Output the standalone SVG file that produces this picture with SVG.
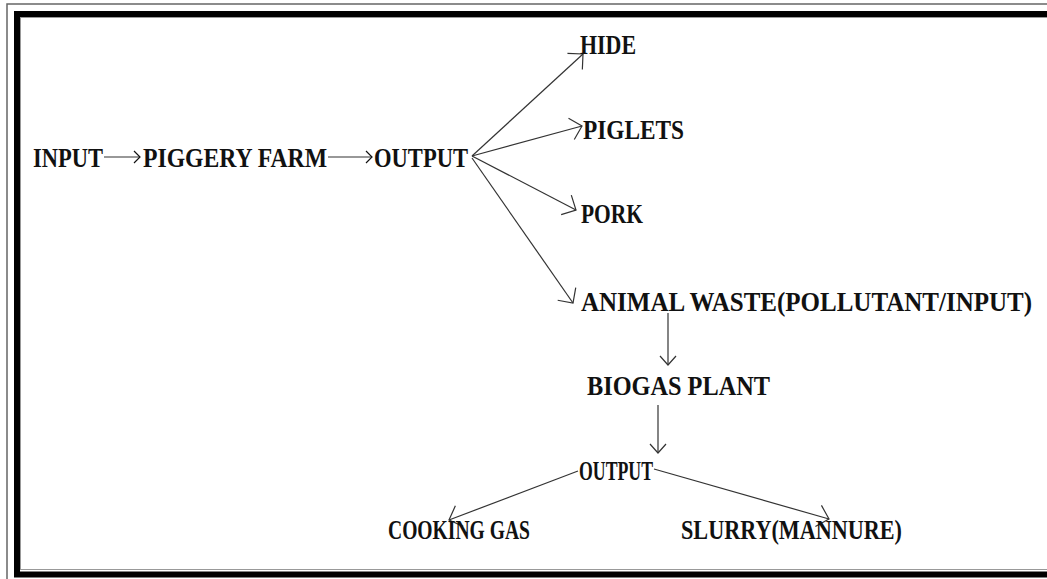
<svg xmlns="http://www.w3.org/2000/svg" width="1047" height="579" viewBox="0 0 1047 579">
<defs>
<style>
.t{font-family:"Liberation Serif","DejaVu Serif",serif;font-weight:bold;font-size:27px;fill:#111}
.c{stroke:#333;stroke-width:1.2;fill:none}
</style>
<marker id="big" markerUnits="userSpaceOnUse" viewBox="-13 -13 15 26" refX="0" refY="0" markerWidth="15" markerHeight="26" orient="auto">
<path d="M-11,-11 L0,0 L-11,11" fill="none" stroke="#333" stroke-width="1.2"/>
</marker>
<marker id="mid" markerUnits="userSpaceOnUse" viewBox="-10 -10 12 20" refX="0" refY="0" markerWidth="12" markerHeight="20" orient="auto">
<path d="M-9,-8 L0,0 L-9,8" fill="none" stroke="#333" stroke-width="1.2"/>
</marker>
<marker id="small" markerUnits="userSpaceOnUse" viewBox="-8 -8 10 16" refX="0" refY="0" markerWidth="10" markerHeight="16" orient="auto">
<path d="M-6,-6 L0,0 L-6,6" fill="none" stroke="#111" stroke-width="1.2"/>
</marker>
</defs>
<rect width="1047" height="579" fill="#fff"/>
<g id="frame">
<rect x="7" y="4" width="1060" height="600" fill="none" stroke="#666" stroke-width="1.5"/>
<rect x="17" y="14" width="1050" height="560.5" fill="none" stroke="#000" stroke-width="6"/>
<rect x="20.5" y="17.5" width="1040" height="552" fill="none" stroke="#999" stroke-width="1"/>
</g>
<g id="connectors">
<line class="c" x1="104" y1="157" x2="140" y2="157" marker-end="url(#small)"/>
<line class="c" x1="328" y1="157" x2="372" y2="157" marker-end="url(#small)"/>
<line class="c" x1="472" y1="156" x2="583" y2="54" marker-end="url(#big)"/>
<line class="c" x1="472" y1="156" x2="582" y2="126" marker-end="url(#big)"/>
<line class="c" x1="472" y1="156" x2="576" y2="210" marker-end="url(#big)"/>
<line class="c" x1="472" y1="158" x2="573" y2="303" marker-end="url(#big)"/>
<line class="c" x1="668" y1="313" x2="668" y2="365" marker-end="url(#mid)"/>
<line class="c" x1="658" y1="405" x2="658" y2="453" marker-end="url(#mid)"/>
<line class="c" x1="578" y1="471" x2="449" y2="520" marker-end="url(#big)"/>
<line class="c" x1="654" y1="469" x2="829" y2="519" marker-end="url(#big)"/>
</g>
<g id="n-input"><text class="t" x="33" y="167" textLength="70" lengthAdjust="spacingAndGlyphs">INPUT</text></g>
<g id="n-piggery"><text class="t" x="143" y="167" textLength="184" lengthAdjust="spacingAndGlyphs">PIGGERY FARM</text></g>
<g id="n-output1"><text class="t" x="374" y="167" textLength="94" lengthAdjust="spacingAndGlyphs">OUTPUT</text></g>
<g id="n-hide"><text class="t" x="580" y="54" textLength="56" lengthAdjust="spacingAndGlyphs">HIDE</text></g>
<g id="n-piglets"><text class="t" x="583" y="139" textLength="101" lengthAdjust="spacingAndGlyphs">PIGLETS</text></g>
<g id="n-pork"><text class="t" x="581" y="223" textLength="62" lengthAdjust="spacingAndGlyphs">PORK</text></g>
<g id="n-waste"><text class="t" x="581" y="311" textLength="451" lengthAdjust="spacingAndGlyphs">ANIMAL WASTE(POLLUTANT/INPUT)</text></g>
<g id="n-biogas"><text class="t" x="587" y="395" textLength="183" lengthAdjust="spacingAndGlyphs">BIOGAS PLANT</text></g>
<g id="n-output2"><text class="t" x="579" y="480" textLength="74" lengthAdjust="spacingAndGlyphs">OUTPUT</text></g>
<g id="n-cooking"><text class="t" x="388" y="539" textLength="142" lengthAdjust="spacingAndGlyphs">COOKING GAS</text></g>
<g id="n-slurry"><text class="t" x="681" y="539" textLength="221" lengthAdjust="spacingAndGlyphs">SLURRY(MANNURE)</text></g>
</svg>
